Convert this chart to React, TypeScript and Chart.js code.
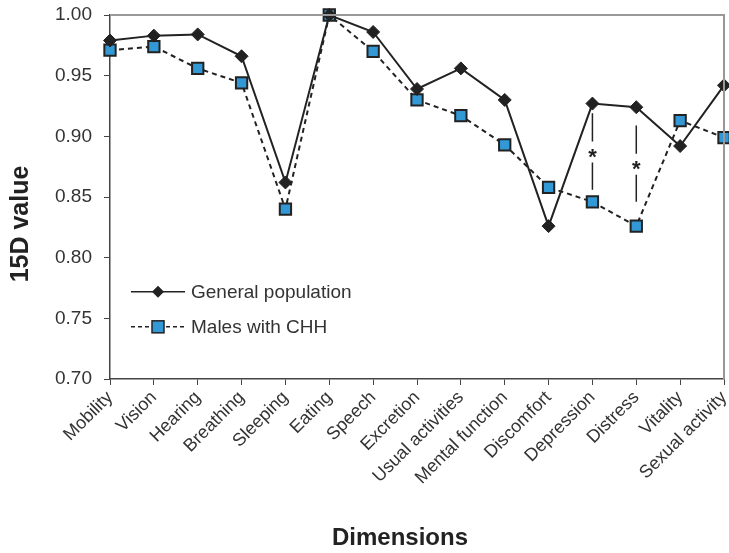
import React, { useEffect, useRef } from "react";
import { Chart, registerables } from "chart.js";

Chart.register(...registerables);

const categories = [
  "Mobility", "Vision", "Hearing", "Breathing", "Sleeping", "Eating", "Speech",
  "Excretion", "Usual activities", "Mental function", "Discomfort", "Depression",
  "Distress", "Vitality", "Sexual activity",
];
const generalPopulation = [0.979, 0.983, 0.984, 0.966, 0.862, 1.0, 0.986, 0.939, 0.956, 0.93, 0.826, 0.927, 0.924, 0.892, 0.942];
const malesWithCHH = [0.971, 0.974, 0.956, 0.944, 0.84, 1.0, 0.97, 0.93, 0.917, 0.893, 0.858, 0.846, 0.826, 0.913, 0.899];
const seriesNames = ["General population", "Males with CHH"];
const sigCategories = ["Depression", "Distress"];
const sigTop = [0.919, 0.909];
const sigBottom = [0.856, 0.846];
const yMin = 0.7;
const yMax = 1.0;
const yStep = 0.05;

const FONT = "'Liberation Sans', Arial, sans-serif";
const BLUE = "#3399d6";
const DARK = "#222222";

const decorPlugin = {
  id: "decor",
  afterDatasetsDraw(chart: any) {
    const { ctx, chartArea, scales } = chart;
    const x = scales.x;
    const y = scales.y;
    ctx.save();
    // top and right frame
    ctx.strokeStyle = "#999999";
    ctx.lineWidth = 2;
    ctx.beginPath();
    ctx.moveTo(chartArea.left, chartArea.top);
    ctx.lineTo(chartArea.right, chartArea.top);
    ctx.lineTo(chartArea.right, chartArea.bottom);
    ctx.stroke();

    // significance markers
    sigCategories.forEach((cat, i) => {
      const idx = categories.indexOf(cat);
      const px = x.getPixelForValue(idx);
      const top = y.getPixelForValue(sigTop[i]);
      const bot = y.getPixelForValue(sigBottom[i]);
      const mid = (top + bot) / 2 + 2;
      ctx.strokeStyle = DARK;
      ctx.lineWidth = 1.5;
      ctx.beginPath();
      ctx.moveTo(px, top);
      ctx.lineTo(px, mid - 12);
      ctx.moveTo(px, mid + 9);
      ctx.lineTo(px, bot);
      ctx.stroke();
      ctx.fillStyle = DARK;
      ctx.font = `bold 22px ${FONT}`;
      ctx.textAlign = "center";
      ctx.textBaseline = "middle";
      ctx.fillText("*", px, mid + 4);
    });

    // legend inside plot
    const lx0 = chartArea.left + 21;
    const lx1 = chartArea.left + 75;
    const rows = [y.getPixelForValue(0.772), y.getPixelForValue(0.743)];
    rows.forEach((ry, i) => {
      ctx.strokeStyle = DARK;
      ctx.lineWidth = 1.5;
      ctx.setLineDash(i === 0 ? [] : [4, 3]);
      ctx.beginPath();
      ctx.moveTo(lx0, ry);
      ctx.lineTo(lx1, ry);
      ctx.stroke();
      ctx.setLineDash([]);
      const mx = (lx0 + lx1) / 2;
      if (i === 0) {
        ctx.fillStyle = DARK;
        ctx.beginPath();
        ctx.moveTo(mx - 6, ry);
        ctx.lineTo(mx, ry - 6);
        ctx.lineTo(mx + 6, ry);
        ctx.lineTo(mx, ry + 6);
        ctx.closePath();
        ctx.fill();
      } else {
        ctx.fillStyle = BLUE;
        ctx.strokeStyle = DARK;
        ctx.lineWidth = 1.5;
        ctx.fillRect(mx - 6, ry - 6, 12, 12);
        ctx.strokeRect(mx - 6, ry - 6, 12, 12);
      }
      ctx.fillStyle = "#333333";
      ctx.font = `19px ${FONT}`;
      ctx.textAlign = "left";
      ctx.textBaseline = "middle";
      ctx.fillText(seriesNames[i], lx1 + 6, ry + 1);
    });

    // axis titles
    ctx.fillStyle = "#222222";
    ctx.font = `bold 24px ${FONT}`;
    ctx.textAlign = "center";
    ctx.textBaseline = "middle";
    ctx.fillText("Dimensions", 400, 538);
    ctx.save();
    ctx.translate(21, 224);
    ctx.rotate(-Math.PI / 2);
    ctx.font = `bold 25px ${FONT}`;
    ctx.fillText("15D value", 0, 0);
    ctx.restore();
    ctx.restore();
  },
};

export default function App() {
  const ref = useRef<HTMLCanvasElement>(null);
  useEffect(() => {
    if (!ref.current) return;
    const chart = new Chart(ref.current, {
      type: "line",
      data: {
        labels: categories,
        datasets: [
          {
            label: seriesNames[0],
            data: generalPopulation,
            borderColor: DARK,
            borderWidth: 2,
            backgroundColor: DARK,
            pointStyle: "rectRot",
            pointRadius: 6.5,
            pointBorderWidth: 1,
            pointBackgroundColor: DARK,
            pointBorderColor: DARK,
            tension: 0,
            clip: false as any,
          },
          {
            label: seriesNames[1],
            data: malesWithCHH,
            borderColor: DARK,
            borderWidth: 2,
            borderDash: [5, 4],
            backgroundColor: BLUE,
            pointStyle: "rect",
            pointRadius: 8,
            pointBorderWidth: 2,
            pointBackgroundColor: BLUE,
            pointBorderColor: DARK,
            tension: 0,
            clip: false as any,
          },
        ],
      },
      options: {
        responsive: false,
        animation: false,
        layout: { padding: { top: 15, right: 0, left: 0, bottom: 0 } },
        plugins: { legend: { display: false }, tooltip: { enabled: false } },
        scales: {
          x: {
            offset: false,
            afterFit: (s: any) => {
              s.height = 174;
              s.paddingLeft = 0;
              s.paddingRight = 0;
            },
            grid: {
              display: true,
              drawOnChartArea: false,
              drawTicks: true,
              tickLength: 6,
              color: "#444444",
            },
            border: { display: true, color: "#444444", width: 1.5 },
            ticks: {
              minRotation: 45,
              maxRotation: 45,
              autoSkip: false,
              padding: 2,
              color: "#333333",
              font: { family: FONT, size: 18 },
            },
          },
          y: {
            min: yMin,
            max: yMax,
            afterFit: (s: any) => {
              s.width = 110;
              s.paddingTop = 0;
              s.paddingBottom = 0;
            },
            grid: {
              display: true,
              drawOnChartArea: false,
              drawTicks: true,
              tickLength: 6,
              color: "#444444",
            },
            border: { display: true, color: "#444444", width: 1.5 },
            ticks: {
              stepSize: yStep,
              padding: 12,
              color: "#333333",
              font: { family: FONT, size: 19 },
              callback: (v: any) => Number(v).toFixed(2),
            },
          },
        },
      },
      plugins: [decorPlugin],
    });
    return () => chart.destroy();
  }, []);
  return (
    <div style={{ position: "absolute", left: 0, top: 0, width: 729, height: 553, overflow: "hidden", background: "#fff" }}>
      <canvas ref={ref} width={734} height={553} style={{ display: "block" }} />
    </div>
  );
}
